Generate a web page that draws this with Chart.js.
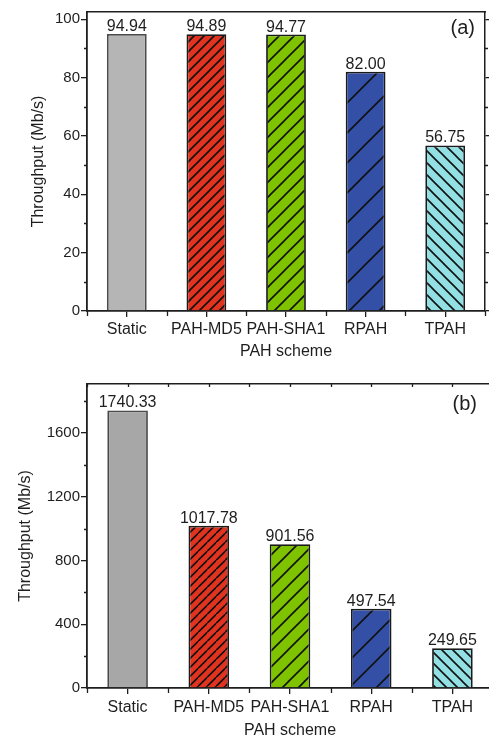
<!DOCTYPE html>
<html>
<head>
<meta charset="utf-8">
<script src="https://cdn.jsdelivr.net/npm/chart.js@4.4.0/dist/chart.umd.min.js"></script>
<style>
  html, body { margin: 0; padding: 0; background: #fff; overflow: hidden; }
  #chartA { position: absolute; left: 0; top: 0; }
  #chartB { position: absolute; left: 0; top: 362px; }
</style>
</head>
<body>
<canvas id="chartA" width="489" height="365"></canvas>
<canvas id="chartB" width="497" height="378"></canvas>
<script>
// data
var schemes = ['Static', 'PAH-MD5', 'PAH-SHA1', 'RPAH', 'TPAH'];
var throughputA = [94.94, 94.89, 94.77, 82.00, 56.75];
var throughputB = [1740.33, 1017.78, 901.56, 497.54, 249.65];
var yTicksA = [0, 20, 40, 60, 80, 100];
var yTicksB = [0, 400, 800, 1200, 1600];

// bar looks
var fillsA = ['#b5b5b5', '#e03320', '#7ec200', '#3450a6', '#92dfe4'];
var fillsB = ['#a7a7a7', '#e03320', '#7ec200', '#3450a6', '#92dfe4'];
var edges = ['#4a4a4a', '#1a1a1a', '#1a1a1a', '#1a1a1a', '#1a1a1a'];
var hatchDir = [0, 1, 1, 1, -1];   // 1 = "/", -1 = "\"
var hatchA = [0, 10, 15, 30, 12];
var hatchB = [0, 9.5, 16, 27, 11];

var FONT = '"Liberation Sans", Arial, sans-serif';
var INK = '#1e1e1e';

function hatch(color, dir, size) {
    if (!dir) return color;
    var c = document.createElement('canvas');
    c.width = size; c.height = size;
    var g = c.getContext('2d');
    g.fillStyle = color;
    g.fillRect(0, 0, size, size);
    g.strokeStyle = '#111';
    g.lineWidth = 1.6;
    g.beginPath();
    if (dir > 0) {
        g.moveTo(-1, size + 1); g.lineTo(size + 1, -1);
        g.moveTo(-2, 2); g.lineTo(2, -2);
        g.moveTo(size - 2, size + 2); g.lineTo(size + 2, size - 2);
    } else {
        g.moveTo(-1, -1); g.lineTo(size + 1, size + 1);
        g.moveTo(-2, size - 2); g.lineTo(2, size + 2);
        g.moveTo(size - 2, -2); g.lineTo(size + 2, 2);
    }
    g.stroke();
    return g.createPattern(c, 'repeat');
}

// value labels, minor ticks and panel letter
var extras = {
    id: 'extras',
    afterDraw: function (chart, args, o) {
        var ctx = chart.ctx, a = chart.chartArea;
        var x = chart.scales.x, y = chart.scales.y;
        ctx.save();
        ctx.strokeStyle = INK;
        ctx.lineWidth = 1.3;
        ctx.beginPath();
        for (var v = o.minor; v < y.max; v += o.minor * 2) {
            var py = Math.round(y.getPixelForValue(v)) + 0.5;
            ctx.moveTo(a.left - 3, py); ctx.lineTo(a.left, py);
            ctx.moveTo(a.right, py); ctx.lineTo(a.right + 3, py);
        }
        var half = (x.getPixelForValue(1) - x.getPixelForValue(0)) / 2;
        for (var i = 0; i <= schemes.length; i++) {
            var px = Math.round(x.getPixelForValue(i) - half) + 0.5;
            ctx.moveTo(px, a.bottom); ctx.lineTo(px, a.bottom + 5);
            if (o.topTicks) {
                ctx.moveTo(px, a.top); ctx.lineTo(px, a.top + 3);
                if (i < schemes.length) {
                    var cx = Math.round(x.getPixelForValue(i)) + 0.5;
                    ctx.moveTo(cx, a.top); ctx.lineTo(cx, a.top + 3);
                }
            }
        }
        ctx.stroke();

        ctx.fillStyle = INK;
        ctx.font = '16px ' + FONT;
        ctx.textAlign = 'center';
        ctx.textBaseline = 'alphabetic';
        var meta = chart.getDatasetMeta(0);
        var vals = chart.data.datasets[0].data;
        meta.data.forEach(function (bar, k) {
            ctx.fillText(vals[k].toFixed(2), bar.x, bar.y - 3);
        });

        ctx.font = '20px ' + FONT;
        ctx.textAlign = 'right';
        ctx.textBaseline = 'middle';
        ctx.fillText(o.letter, a.right - o.dx, a.top + o.dy);
        ctx.restore();
    }
};

function setTicks(list) {
    return function (s) { s.ticks = list.map(function (v) { return { value: v }; }); };
}

function makeChart(id, values, fills, sizes, yMax, yTicks, minor, yTitlePad, geo) {
    var ctx = document.getElementById(id).getContext('2d');
    return new Chart(ctx, {
        type: 'bar',
        data: {
            labels: schemes,
            datasets: [{
                data: values,
                backgroundColor: fills.map(function (c, i) { return hatch(c, hatchDir[i], sizes[i]); }),
                borderColor: edges,
                borderWidth: 1.8,
                barPercentage: 0.5,
                categoryPercentage: 1
            }]
        },
        options: {
            responsive: false,
            animation: false,
            layout: { padding: 0 },
            plugins: {
                legend: { display: false },
                tooltip: { enabled: false },
                extras: { minor: minor, letter: geo.letter, dx: geo.dx, dy: geo.dy, topTicks: geo.topTicks }
            },
            scales: {
                x: {
                    position: 'bottom',
                    grid: { display: true, drawOnChartArea: false, offset: false, tickLength: 6, color: INK, lineWidth: 1.3 },
                    border: { display: true, color: INK, width: 1.8 },
                    ticks: { color: INK, font: { family: FONT, size: 16 }, padding: geo.xPad, maxRotation: 0, autoSkip: false },
                    title: { display: true, text: 'PAH scheme', color: INK, font: { family: FONT, size: 16 }, padding: { top: 0, bottom: geo.xTitlePad } },
                    afterFit: function (s) { s.height = geo.bottomH; }
                },
                x2: {
                    type: 'category',
                    labels: schemes,
                    position: 'top',
                    offset: true,
                    grid: { display: false },
                    border: { display: true, color: INK, width: 1.5 },
                    ticks: { display: false },
                    afterFit: function (s) { s.height = geo.topH; }
                },
                y: {
                    position: 'left',
                    min: 0,
                    max: yMax,
                    afterBuildTicks: setTicks(yTicks),
                    grid: { drawOnChartArea: false, tickLength: 6, color: INK, lineWidth: 1.3 },
                    border: { display: true, color: INK, width: 1.8 },
                    ticks: { color: INK, font: { family: FONT, size: 15 }, padding: 1, callback: function (v) { return String(v); } },
                    title: { display: true, text: 'Throughput (Mb/s)', color: INK, font: { family: FONT, size: 16 }, padding: { top: yTitlePad, bottom: 0 } },
                    afterFit: function (s) { s.width = geo.leftW; }
                },
                y2: {
                    position: 'right',
                    min: 0,
                    max: yMax,
                    afterBuildTicks: setTicks(yTicks),
                    grid: { drawOnChartArea: false, tickLength: 5, color: INK, lineWidth: 1.3 },
                    border: { display: true, color: INK, width: 1.5 },
                    ticks: { display: false },
                    afterFit: function (s) { s.width = geo.rightW; }
                }
            }
        },
        plugins: [extras]
    });
}

makeChart('chartA', throughputA, fillsA, hatchA, 102.5, yTicksA, 10, 29,
    { leftW: 87, rightW: 4, topH: 12, bottomH: 54, xPad: 3, xTitlePad: 4, letter: '(a)', dx: 10, dy: 16, topTicks: false });

makeChart('chartB', throughputB, fillsB, hatchB, 1906, yTicksB, 200, 16,
    { leftW: 87, rightW: 4, topH: 22, bottomH: 52, xPad: 4, xTitlePad: 0, letter: '(b)', dx: 16, dy: 20, topTicks: true });
</script>
</body>
</html>
